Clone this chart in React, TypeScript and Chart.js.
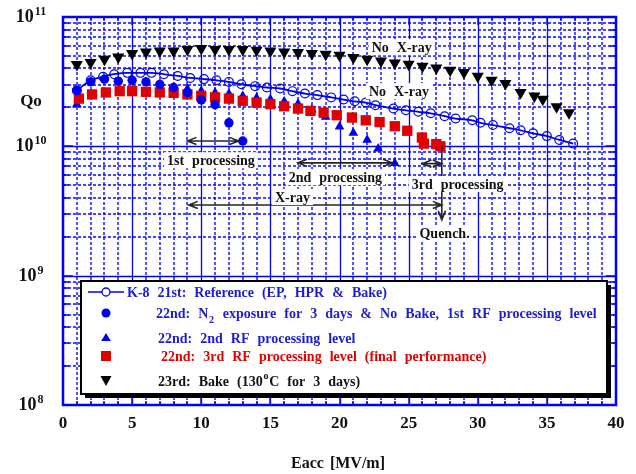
import React, { useEffect, useRef } from "react";
import { Chart, registerables } from "chart.js";

Chart.register(...registerables);

// ---- data (Qo values in units of 1e10) ----
const refEacc = [1.0, 2.0, 2.9, 3.7, 4.65, 5.6, 6.4, 7.3, 8.3, 9.2, 10.2, 11.1, 12.0, 12.9, 13.9, 14.75, 15.7, 16.6, 17.5, 18.4, 19.4, 20.3, 21.1, 21.9, 22.6, 23.9, 24.8, 25.7, 26.6, 27.6, 28.4, 29.6, 30.2, 31.1, 32.3, 33.1, 34.0, 35.0, 35.9, 36.9];
const refQo = [2.70, 3.24, 3.45, 3.61, 3.70, 3.70, 3.70, 3.61, 3.50, 3.38, 3.31, 3.24, 3.15, 3.02, 2.92, 2.85, 2.80, 2.67, 2.56, 2.49, 2.39, 2.30, 2.23, 2.18, 2.08, 1.96, 1.90, 1.85, 1.80, 1.71, 1.64, 1.59, 1.52, 1.46, 1.38, 1.33, 1.26, 1.20, 1.12, 1.05];

const n2Eacc = [1, 2, 3, 4, 5, 6, 7, 8, 9, 10, 11, 12, 13];
const n2Qo = [2.72, 3.15, 3.31, 3.19, 3.24, 3.15, 3.01, 2.85, 2.60, 2.28, 2.10, 1.52, 1.10];

const rf2Eacc = [1, 8, 9, 10, 11, 12, 13, 14, 15, 16, 17, 18, 19, 20, 21, 22, 22.8, 24];
const rf2Qo = [2.11, 2.85, 2.78, 2.68, 2.60, 2.55, 2.45, 2.37, 2.31, 2.22, 2.13, 1.92, 1.69, 1.42, 1.27, 1.12, 0.96, 0.74];

const rf3Eacc = [1.15, 2.1, 3.1, 4.1, 5, 6, 7, 8, 9, 10, 11, 12, 13, 14, 15, 16, 17, 17.9, 18.85, 19.8, 20.9, 21.9, 22.9, 24.0, 24.9, 25.96, 26.1, 27.0, 27.3];
const rf3Qo = [2.34, 2.52, 2.61, 2.67, 2.67, 2.64, 2.61, 2.59, 2.52, 2.45, 2.39, 2.34, 2.25, 2.18, 2.12, 2.04, 1.96, 1.88, 1.82, 1.74, 1.67, 1.59, 1.54, 1.43, 1.32, 1.17, 1.05, 1.04, 1.00];

const bakeEacc = [1, 2, 3, 4, 5, 6, 7, 8, 9, 10, 11, 12, 13, 14, 15, 16, 17, 18, 19, 20, 21, 22, 23, 24, 25, 26, 27, 28, 29, 30, 31, 32, 33.1, 34.1, 34.7, 35.7, 36.6];
const bakeQo = [4.29, 4.44, 4.71, 4.91, 5.21, 5.37, 5.46, 5.46, 5.60, 5.70, 5.60, 5.60, 5.60, 5.53, 5.46, 5.37, 5.31, 5.21, 5.15, 5.06, 4.86, 4.71, 4.57, 4.41, 4.31, 4.16, 4.04, 3.88, 3.72, 3.48, 3.24, 3.06, 2.61, 2.45, 2.31, 2.02, 1.82];

const xTickValues = [0, 5, 10, 15, 20, 25, 30, 35, 40];
const yTickExponents = [8, 9, 10, 11];

const legendTexts = [
  "K-8 21st: Reference (EP, HPR & Bake)",
  "22nd: N_2 exposure for 3 days & No Bake, 1st RF processing level",
  "22nd: 2nd RF processing level",
  "22nd: 3rd RF processing level (final performance)",
  "23rd: Bake (130^oC for 3 days)",
];
const xAxisTitle = "Eacc [MV/m]";
const yAxisTitle = "Qo";

// annotations anchored in data coordinates (Eacc, Qo)
const noteTexts = ["No X-ray", "No X-ray", "1st processing", "2nd processing", "3rd processing", "X-ray", "Quench."];
const noteEacc = [24.5, 24.3, 10.7, 19.7, 28.55, 16.6, 27.6];
const noteQo = [5.84e10, 2.67e10, 7.81e9, 5.78e9, 5.11e9, 4.06e9, 2.14e9];

const arrowFrom = [9.0, 17.0, 26.0, 9.1];
const arrowTo = [12.7, 23.8, 27.4, 27.4];
const arrowQo = [1.10e10, 7.45e9, 7.35e9, 3.52e9];
const quenchEacc = 27.4;
const quenchQoTop = 1.0e10;
const quenchQoTip = 2.7e9;

// ---- styles ----
const FONT = '"Liberation Serif", "Times New Roman", serif';
const BLUE = "#0000f0";
const TXT_BLUE = "#1c1cd0";
const RED = "#e00000";
const GRID = "#0a0aff";

const pts = (xs: number[], ys: number[], k = 1e10) => xs.map((x, i) => ({ x, y: ys[i] * k }));

type Seg = { t: string; k: "n" | "sub" | "sup" };
function segs(word: string): Seg[] {
  const out: Seg[] = [];
  let buf = "";
  for (let i = 0; i < word.length; i++) {
    const c = word[i];
    if ((c === "_" || c === "^") && i + 1 < word.length) {
      if (buf) out.push({ t: buf, k: "n" });
      buf = "";
      out.push({ t: word[i + 1], k: c === "_" ? "sub" : "sup" });
      i++;
    } else buf += c;
  }
  if (buf) out.push({ t: buf, k: "n" });
  return out;
}
function setFont(ctx: any, size: number, k: string) {
  ctx.font = `bold ${k === "n" ? size : Math.round(size * 0.68)}px ${FONT}`;
}
function textWidth(ctx: any, text: string, size: number, gap: number) {
  const words = text.split(" ");
  let w = 0;
  words.forEach((word) => {
    for (const s of segs(word)) {
      setFont(ctx, size, s.k);
      w += ctx.measureText(s.t).width + (s.k !== "n" ? 1.5 : 0);
    }
  });
  return w + gap * (words.length - 1);
}
function drawText(ctx: any, text: string, x: number, yMid: number, size: number, gap: number, color: string) {
  ctx.fillStyle = color;
  ctx.textBaseline = "alphabetic";
  ctx.textAlign = "left";
  const base = yMid + size * 0.33;
  let cx = x;
  const words = text.split(" ");
  words.forEach((word, i) => {
    for (const s of segs(word)) {
      setFont(ctx, size, s.k);
      const dy = s.k === "sub" ? size * 0.35 : s.k === "sup" ? -size * 0.45 : 0;
      ctx.fillText(s.t, cx + (s.k !== "n" ? 0.75 : 0), base + dy);
      cx += ctx.measureText(s.t).width + (s.k !== "n" ? 1.5 : 0);
    }
    if (i < words.length - 1) cx += gap;
  });
}
function arrowHead(ctx: any, x: number, y: number, dx: number, dy: number) {
  const L = 9, W = 3.6;
  const bx = x - dx * L, by = y - dy * L;
  ctx.moveTo(bx - dy * W, by + dx * W);
  ctx.lineTo(x, y);
  ctx.lineTo(bx + dy * W, by - dx * W);
}

const decor = {
  id: "decor",
  beforeDatasetsDraw(chart: any) {
    const { ctx, chartArea: a, scales } = chart;
    const xs = scales.x, ys = scales.y;
    ctx.save();
    ctx.beginPath();
    ctx.rect(a.left, a.top, a.right - a.left, a.bottom - a.top);
    ctx.clip();
    ctx.strokeStyle = GRID;
    ctx.lineWidth = 1.4;
    ctx.setLineDash([3, 2]);
    ctx.beginPath();
    for (let v = 1; v < 40; v++) {
      if (v % 5 === 0) continue;
      const p = Math.round(xs.getPixelForValue(v));
      ctx.moveTo(p, a.top);
      ctx.lineTo(p, a.bottom);
    }
    for (let e = 8; e < 11; e++)
      for (let m = 2; m <= 9; m++) {
        const p = Math.round(ys.getPixelForValue(m * Math.pow(10, e)));
        ctx.moveTo(a.left, p);
        ctx.lineTo(a.right, p);
      }
    ctx.stroke();
    ctx.setLineDash([]);
    ctx.strokeStyle = "#0000ff";
    ctx.lineWidth = 1.3;
    ctx.beginPath();
    for (let v = 5; v < 40; v += 5) {
      const p = Math.round(xs.getPixelForValue(v)) + 0.5;
      ctx.moveTo(p, a.top);
      ctx.lineTo(p, a.bottom);
    }
    for (let e = 9; e <= 10; e++) {
      const p = Math.round(ys.getPixelForValue(Math.pow(10, e))) + 0.5;
      ctx.moveTo(a.left, p);
      ctx.lineTo(a.right, p);
    }
    ctx.stroke();
    // inward ticks
    ctx.lineWidth = 1.4;
    ctx.beginPath();
    for (let v = 1; v < 40; v++) {
      const p = Math.round(xs.getPixelForValue(v));
      const L = v % 5 === 0 ? 8 : 4;
      ctx.moveTo(p, a.bottom); ctx.lineTo(p, a.bottom - L);
      ctx.moveTo(p, a.top); ctx.lineTo(p, a.top + L);
    }
    for (let e = 8; e < 11; e++)
      for (let m = 1; m <= 9; m++) {
        if (m === 1 && e === 8) continue;
        const p = Math.round(ys.getPixelForValue(m * Math.pow(10, e)));
        const L = m === 1 ? 10 : 6;
        ctx.moveTo(a.left, p); ctx.lineTo(a.left + L, p);
        ctx.moveTo(a.right, p); ctx.lineTo(a.right - L, p);
      }
    ctx.stroke();
    ctx.restore();
  },
  afterDatasetsDraw(chart: any) {
    const { ctx, chartArea: a, scales } = chart;
    const xs = scales.x, ys = scales.y;
    ctx.save();

    // arrows
    ctx.strokeStyle = "#262626";
    ctx.lineWidth = 1.6;
    ctx.beginPath();
    arrowFrom.forEach((e1, i) => {
      const x1 = xs.getPixelForValue(e1), x2 = xs.getPixelForValue(arrowTo[i]);
      const y = ys.getPixelForValue(arrowQo[i]);
      ctx.moveTo(x1, y); ctx.lineTo(x2, y);
      arrowHead(ctx, x1, y, -1, 0);
      arrowHead(ctx, x2, y, 1, 0);
    });
    const qx = xs.getPixelForValue(quenchEacc);
    const qTop = ys.getPixelForValue(quenchQoTop), qTip = ys.getPixelForValue(quenchQoTip);
    ctx.moveTo(qx, qTop); ctx.lineTo(qx, qTip);
    arrowHead(ctx, qx, qTip, 0, 1);
    ctx.stroke();

    // annotation labels with white background
    const NS = 14, NG = 8;
    noteTexts.forEach((t, i) => {
      const cx = xs.getPixelForValue(noteEacc[i]);
      const cy = ys.getPixelForValue(noteQo[i]);
      const w = textWidth(ctx, t, NS, NG);
      ctx.fillStyle = "#ffffff";
      ctx.fillRect(cx - w / 2 - 3, cy - 8, w + 6, 16);
      drawText(ctx, t, cx - w / 2, cy, NS, NG, "#111111");
    });

    // legend box
    const L = 81, T = 281, R = 607, B = 394;
    ctx.fillStyle = "#000";
    ctx.fillRect(L + 4, T + 4, R - L, B - T);
    ctx.fillStyle = "#fff";
    ctx.fillRect(L, T, R - L, B - T);
    ctx.strokeStyle = "#000";
    ctx.lineWidth = 2;
    ctx.strokeRect(L, T, R - L, B - T);

    const rowY = [292, 313, 338, 356, 381];
    const textX = [127, 156, 158, 161, 158];
    const colors = [TXT_BLUE, TXT_BLUE, TXT_BLUE, RED, "#111111"];
    const mx = 106;
    ctx.strokeStyle = BLUE;
    ctx.lineWidth = 1.6;
    ctx.beginPath(); ctx.moveTo(88, rowY[0]); ctx.lineTo(124, rowY[0]); ctx.stroke();
    ctx.fillStyle = "#fff";
    ctx.beginPath(); ctx.arc(mx, rowY[0], 4, 0, Math.PI * 2); ctx.fill();
    ctx.lineWidth = 1.3; ctx.stroke();
    ctx.fillStyle = BLUE;
    ctx.beginPath(); ctx.arc(mx, rowY[1], 4.5, 0, Math.PI * 2); ctx.fill();
    ctx.beginPath();
    ctx.moveTo(mx, rowY[2] - 5); ctx.lineTo(mx + 4.8, rowY[2] + 3); ctx.lineTo(mx - 4.8, rowY[2] + 3); ctx.closePath(); ctx.fill();
    ctx.fillStyle = RED;
    ctx.fillRect(mx - 5, rowY[3] - 5, 10, 10);
    ctx.fillStyle = "#000";
    ctx.beginPath();
    ctx.moveTo(mx - 5.5, rowY[4] - 5); ctx.lineTo(mx + 5.5, rowY[4] - 5); ctx.lineTo(mx, rowY[4] + 5); ctx.closePath(); ctx.fill();

    legendTexts.forEach((t, i) => drawText(ctx, t, textX[i], rowY[i], 14, 8, colors[i]));

    // plot border
    ctx.strokeStyle = "#0000ff";
    ctx.lineWidth = 2.5;
    ctx.strokeRect(a.left, a.top, a.right - a.left, a.bottom - a.top);

    // x tick labels
    ctx.fillStyle = "#111";
    ctx.font = `bold 17px ${FONT}`;
    ctx.textAlign = "center";
    ctx.textBaseline = "middle";
    xTickValues.forEach((v) => ctx.fillText(String(v), xs.getPixelForValue(v), 424));

    // y tick labels 10^n
    yTickExponents.forEach((e) => {
      const py = ys.getPixelForValue(Math.pow(10, e));
      ctx.font = `bold 18px ${FONT}`;
      const wb = ctx.measureText("10").width;
      ctx.font = `bold 12px ${FONT}`;
      const we = ctx.measureText(String(e)).width;
      const left = 31 - (wb + we + 1) / 2;
      ctx.textAlign = "left";
      ctx.textBaseline = "alphabetic";
      ctx.font = `bold 18px ${FONT}`;
      ctx.fillText("10", left, py + 5);
      ctx.font = `bold 12px ${FONT}`;
      ctx.fillText(String(e), left + wb + 1, py - 2);
    });

    // axis titles
    const tw = textWidth(ctx, xAxisTitle, 16, 6);
    drawText(ctx, xAxisTitle, 338 - tw / 2, 463, 16, 6, "#111");
    const qw = textWidth(ctx, yAxisTitle, 17, 0);
    drawText(ctx, yAxisTitle, 31 - qw / 2, 100, 17, 0, "#111");

    ctx.restore();
  },
};

export default function App() {
  const canvasRef = useRef<HTMLCanvasElement | null>(null);
  useEffect(() => {
    document.body.style.margin = "0";
    const chart = new Chart(canvasRef.current as HTMLCanvasElement, {
      type: "scatter",
      data: {
        datasets: [
          {
            label: "K-8 21st: Reference (EP, HPR & Bake)",
            data: pts(refEacc, refQo),
            showLine: true,
            borderColor: BLUE,
            borderWidth: 1.8,
            cubicInterpolationMode: "monotone",
            pointStyle: "circle",
            pointRadius: 4.4,
            pointBorderWidth: 1.2,
            pointBorderColor: BLUE,
            pointBackgroundColor: "rgba(0,0,0,0)",
            order: 0,
          },
          {
            label: "22nd: 1st RF processing level",
            data: pts(n2Eacc, n2Qo),
            pointStyle: "circle",
            pointRadius: 4.7,
            pointBorderWidth: 0,
            pointBackgroundColor: BLUE,
            order: 1,
          },
          {
            label: "22nd: 3rd RF processing level",
            data: pts(rf3Eacc, rf3Qo),
            pointStyle: "rect",
            pointRadius: 7.3,
            pointBorderWidth: 0,
            pointBackgroundColor: RED,
            order: 2,
          },
          {
            label: "22nd: 2nd RF processing level",
            data: pts(rf2Eacc, rf2Qo),
            pointStyle: "triangle",
            pointRadius: 5.6,
            pointBorderWidth: 0,
            pointBackgroundColor: BLUE,
            order: 3,
          },
          {
            label: "23rd: Bake",
            data: pts(bakeEacc, bakeQo),
            pointStyle: "triangle",
            pointRotation: 180,
            pointRadius: 7,
            pointBorderWidth: 0,
            pointBackgroundColor: "#000",
            order: 4,
          },
        ],
      } as any,
      options: {
        responsive: false,
        animation: false,
        events: [],
        layout: { padding: { left: 63, top: 17, right: 20, bottom: 69 } },
        scales: {
          x: { type: "linear", min: 0, max: 40, display: false },
          y: { type: "logarithmic", min: 1e8, max: 1e11, display: false },
        },
        plugins: { legend: { display: false }, tooltip: { enabled: false } },
      } as any,
      plugins: [decor],
    });
    return () => chart.destroy();
  }, []);
  return (
    <div style={{ width: 636, height: 474, background: "#fff" }}>
      <canvas ref={canvasRef} width={636} height={474} style={{ display: "block" }} />
    </div>
  );
}
